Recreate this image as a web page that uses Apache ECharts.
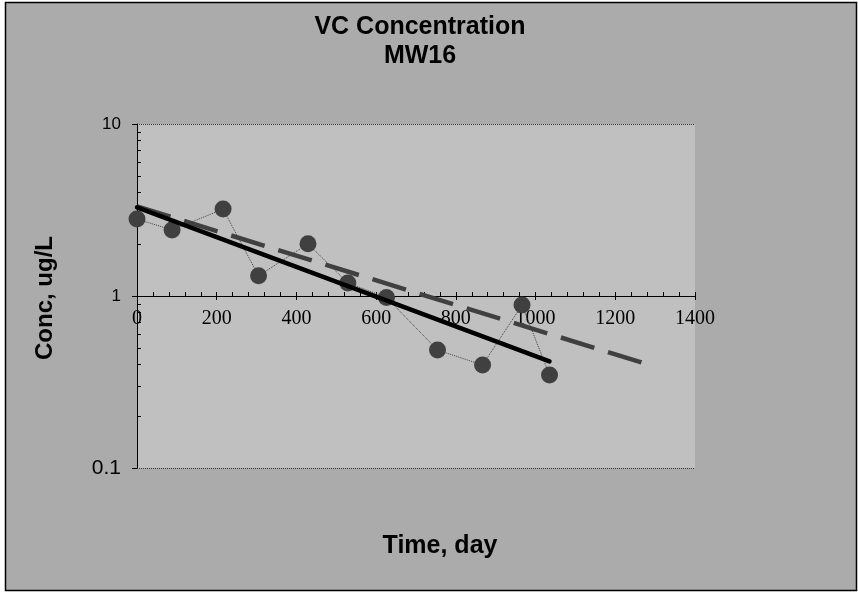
<!DOCTYPE html>
<html>
<head>
<meta charset="utf-8">
<script src="https://cdn.jsdelivr.net/npm/echarts@6/dist/echarts.min.js"></script>
<style>
html,body{margin:0;padding:0;background:#ffffff;}
#chart{width:858px;height:595px;}
</style>
</head>
<body>
<div id="chart"></div>
<script>
// ---- data ----
var titleText = 'VC Concentration\nMW16';
var xAxisName = 'Time, day';
var yAxisName = 'Conc, ug/L';
var xMin = 0, xMax = 1400, xStep = 200;
var yMin = 0.1, yMax = 10;
var yMajorTicks = [0.1, 1, 10];
var yMinorTicks = [0.2, 0.3, 0.4, 0.5, 0.6, 0.7, 0.8, 0.9, 2, 3, 4, 5, 6, 7, 8, 9];
var obsDays = [0, 88, 216, 305, 429, 529, 626, 754, 867, 966, 1035];
var obsConc = [2.80, 2.42, 3.20, 1.31, 2.01, 1.19, 0.98, 0.485, 0.397, 0.886, 0.347];
var fitSolidDays = [0, 1035];
var fitSolidConc = [3.28, 0.417];
var fitDashDays = [0, 1270];
var fitDashConc = [3.32, 0.408];

function pairs(xs, ys) { return xs.map(function (x, i) { return [x, ys[i]]; }); }

var chart = echarts.init(document.getElementById('chart'), null, {renderer: 'canvas'});
var sans = 'Liberation Sans, Arial, sans-serif';
var serif = 'Liberation Serif, Times New Roman, serif';

var option = {
  backgroundColor: '#ffffff',
  animation: false,
  title: {
    text: titleText,
    left: 415,
    top: 8,
    textAlign: 'center',
    textStyle: {fontFamily: sans, fontWeight: 'bold', fontSize: 25, lineHeight: 29, color: '#000'}
  },
  graphic: [
    {type: 'rect', z: -10, silent: true,
     shape: {x: 5.5, y: 2.5, width: 851, height: 588},
     style: {fill: '#ababab', stroke: '#000', lineWidth: 1.5}},
    {type: 'text', silent: true, x: 45, y: 298, rotation: Math.PI / 2,
     style: {text: yAxisName, fontFamily: sans, fontWeight: 'bold', fontSize: 24,
             fill: '#000', align: 'center', verticalAlign: 'middle'}},
    {type: 'text', silent: true, x: 440, y: 546,
     style: {text: xAxisName, fontFamily: sans, fontWeight: 'bold', fontSize: 25,
             fill: '#000', align: 'center', verticalAlign: 'middle'}}
  ],
  grid: {
    left: 137, top: 124, width: 558, height: 344,
    containLabel: false, outerBoundsMode: 'none',
    show: true, backgroundColor: '#c0c0c0', borderWidth: 0
  },
  xAxis: [
    {
      type: 'value', min: xMin, max: xMax, interval: xStep,
      position: 'bottom', offset: -172,
      axisLine: {show: true, onZero: false, lineStyle: {color: '#000', width: 1}},
      axisTick: {show: true, inside: true, length: 4, lineStyle: {color: '#000'}},
      minorTick: {show: true, splitNumber: 5, length: 4, lineStyle: {color: '#000'}},
      axisLabel: {show: true, margin: 13, fontFamily: serif, fontSize: 20, color: '#000',
                  formatter: function (v) { return String(v); }},
      splitLine: {show: false}
    },
    {
      type: 'value', min: xMin, max: xMax, interval: xStep,
      position: 'bottom', offset: -172,
      axisLine: {show: false, onZero: false},
      axisTick: {show: true, inside: false, length: 4, lineStyle: {color: '#000'}},
      axisLabel: {show: false},
      splitLine: {show: false}
    }
  ],
  yAxis: [
    {
      type: 'log', logBase: 10, min: yMin, max: yMax,
      position: 'left',
      axisLine: {show: true, lineStyle: {color: '#000', width: 1}},
      axisTick: {show: true, inside: false, length: 5, customValues: yMajorTicks, lineStyle: {color: '#000'}},
      axisLabel: {show: true, margin: 16, fontFamily: sans, fontSize: 17, color: '#000',
                  formatter: function (v) {
                    var s = String(+(+v).toPrecision(3));
                    return (+v < 0.5) ? '{b|' + s + '}' : '{a|' + s + '}';
                  },
                  rich: {
                    a: {fontFamily: sans, fontSize: 17, color: '#000'},
                    b: {fontFamily: sans, fontSize: 21, color: '#000'}
                  }},
      splitLine: {show: true, lineStyle: {color: '#3a3a3a', type: 'dotted', width: 1}}
    },
    {
      type: 'log', logBase: 10, min: yMin, max: yMax,
      position: 'left', offset: 0,
      axisLine: {show: false},
      axisTick: {show: true, inside: true, length: 4, customValues: yMinorTicks, lineStyle: {color: '#000'}},
      axisLabel: {show: false},
      splitLine: {show: false}
    }
  ],
  series: [
    {
      type: 'line', xAxisIndex: 0, yAxisIndex: 0,
      data: pairs(obsDays, obsConc),
      symbol: 'circle', symbolSize: 17,
      itemStyle: {color: '#404040'},
      lineStyle: {color: '#404040', width: 1, type: 'dotted'},
      z: 2
    },
    {
      type: 'line', xAxisIndex: 0, yAxisIndex: 0,
      data: pairs(fitDashDays, fitDashConc),
      symbol: 'none',
      lineStyle: {color: '#404040', width: 4.5, type: [35, 14.3], cap: 'butt'},
      z: 3
    },
    {
      type: 'line', xAxisIndex: 0, yAxisIndex: 0,
      data: pairs(fitSolidDays, fitSolidConc),
      symbol: 'none',
      lineStyle: {color: '#000', width: 4.5, type: 'solid', cap: 'round'},
      z: 4
    }
  ]
};
chart.setOption(option);
</script>
</body>
</html>
